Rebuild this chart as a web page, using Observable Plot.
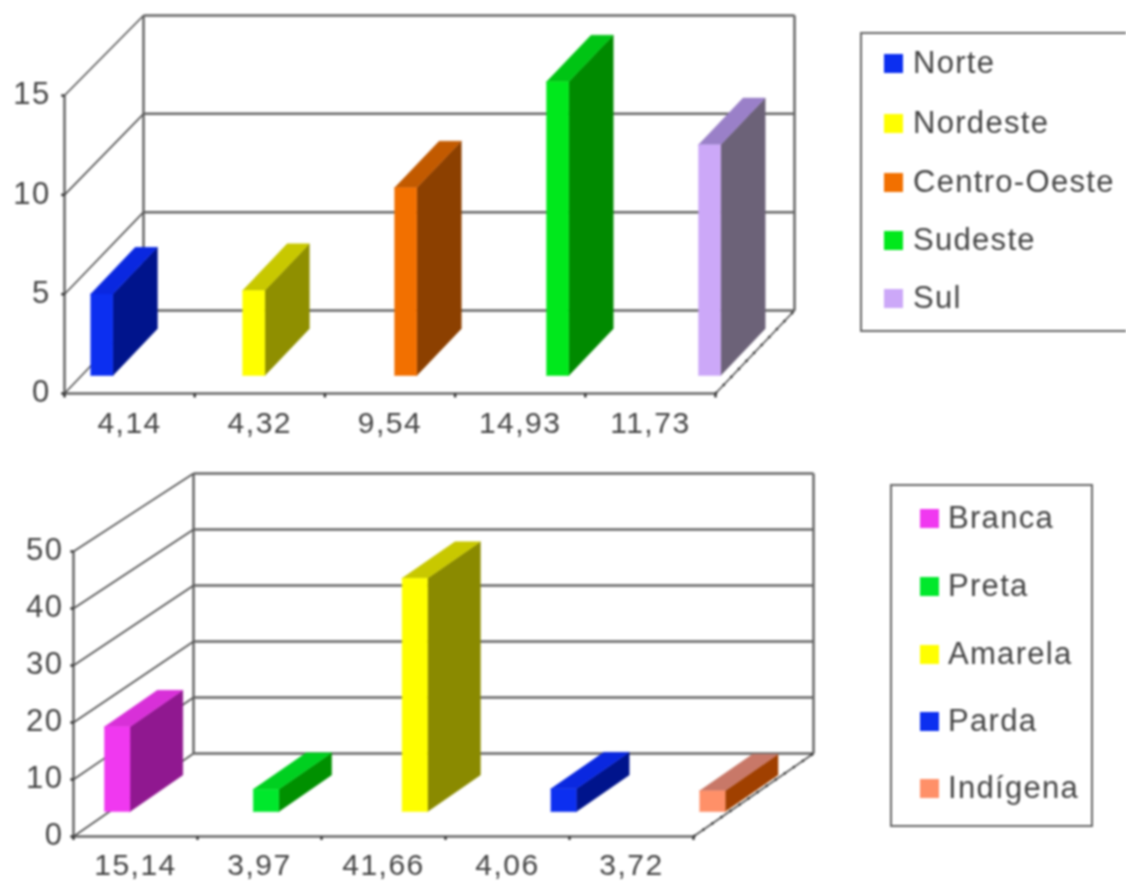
<!DOCTYPE html>
<html>
<head>
<meta charset="utf-8">
<script src="https://cdn.jsdelivr.net/npm/d3@7"></script>
<script src="https://cdn.jsdelivr.net/npm/@observablehq/plot@0.6"></script>
<style>
  html, body { margin: 0; padding: 0; background: #fff; overflow: hidden; }
  #page { position: relative; width: 1126px; height: 881px; overflow: hidden; filter: blur(0.9px);
          font-family: "Liberation Sans", Arial, sans-serif; color: #444; }
  #page svg { position: absolute; left: 0; background: transparent; }
  .legend { position: absolute; box-sizing: border-box; border: 2.5px solid #666; background: #fff; }
  .legend .row { position: absolute; display: flex; align-items: center; font-size: 31px; letter-spacing: 1.3px; line-height: 30px; white-space: nowrap; transform: translateY(-50%); }
  .legend .sw { width: 19px; height: 19px; flex: none; }
</style>
</head>
<body>
<div id="page"></div>
<script>
// Panel 1: regions
const regionNames  = ["Norte", "Nordeste", "Centro-Oeste", "Sudeste", "Sul"];
const regionValues = [4.14, 4.32, 9.54, 14.93, 11.73];
const regionLabels = ["4,14", "4,32", "9,54", "14,93", "11,73"];
const regionFront  = ["#0c2ff0", "#ffff00", "#f27000", "#00e81c", "#cca8f8"];
const regionSide   = ["#00148c", "#8f8f00", "#8c4000", "#008a00", "#6c6278"];
const regionTop    = ["#0a28e0", "#c8c800", "#c25a00", "#00c414", "#9a80c8"];
const regionTicks  = [0, 5, 10, 15];

// Panel 2: colour / race
const raceNames  = ["Branca", "Preta", "Amarela", "Parda", "Indígena"];
const raceValues = [15.14, 3.97, 41.66, 4.06, 3.72];
const raceLabels = ["15,14", "3,97", "41,66", "4,06", "3,72"];
const raceFront  = ["#f038f0", "#00e82c", "#ffff00", "#0c2ff0", "#ff9068"];
const raceSide   = ["#901890", "#009000", "#8a8a00", "#00148c", "#a04000"];
const raceTop    = ["#d830d8", "#00d020", "#c8c800", "#0a28e0", "#c87868"];
const raceTicks  = [0, 10, 20, 30, 40, 50];

const lineColor = "#666";
const diagColor = "#505050";
const textColor = "#444";

function panel(o) {
  const n = o.values.length;
  const px = (u, v, d) => ({x: u + d * o.depthX, y: v + d * o.depthY});
  const seg = (a, b) => ({x1: a.x, y1: a.y, x2: b.x, y2: b.y});
  const top = o.ticks[o.ticks.length - 1];
  const faces = [];
  o.values.forEach((v, i) => {
    const u0 = o.barStart + i * o.barStep, u1 = u0 + o.barWidth;
    const poly = (id, color, pts) => [...pts, pts[0]].forEach(p => faces.push({id, color, ...p}));
    poly(i + "s", o.side[i],  [px(u1, 0, o.d0), px(u1, 0, o.d1), px(u1, v, o.d1), px(u1, v, o.d0)]);
    poly(i + "t", o.topc[i],  [px(u0, v, o.d0), px(u1, v, o.d0), px(u1, v, o.d1), px(u0, v, o.d1)]);
    poly(i + "f", o.front[i], [px(u0, 0, o.d0), px(u1, 0, o.d0), px(u1, v, o.d0), px(u0, v, o.d0)]);
  });
  const f = v => px(0, v * o.stretch, 0);          // a value on the front axis
  const wall = [
    ...o.ticks.map(t => seg(px(0, t, 1), px(n, t, 1))),          // back-wall grid
    seg(px(0, 0, 1), px(0, top, 1)),
    seg(px(n, 0, 1), px(n, top, 1)),
    seg(f(0), f(top)),
    seg(px(0, 0, 0), px(n, 0, 0))
  ];
  const diag = [
    ...o.ticks.map(t => seg(f(t), px(0, t, 1))),                 // side-wall grid
    seg(px(n, 0, 0), px(n, 0, 1))
  ];
  const xt = d3.range(n + 1).map(i => seg(px(i, 0, 0), px(i, -o.tickLen, 0)));
  const yt = o.ticks.map(t => seg(f(t), px(-0.025, t * o.stretch, 0)));
  const link = {x1: "x1", y1: "y1", x2: "x2", y2: "y2", markerEnd: null};
  return Plot.plot({
    width: 1126, height: o.height, margin: 0,
    style: {background: "transparent", fontFamily: "Liberation Sans, Arial, sans-serif", letterSpacing: "1.5px", top: o.top + "px"},
    x: {domain: [0, n], range: o.xRange, axis: null},
    y: {domain: [0, top], range: o.yRange, axis: null},
    color: {type: "identity"},
    marks: [
      Plot.link(wall, {...link, stroke: lineColor, strokeWidth: 2.5}),
      Plot.link(diag, {...link, stroke: diagColor, strokeWidth: 1.6}),
      Plot.link(xt, {...link, strokeWidth: 2.5, stroke: "#333"}),
      Plot.link(yt, {...link, strokeWidth: 2.5, stroke: "#333"}),
      Plot.line(faces, {x: "x", y: "y", z: "id", fill: "color", stroke: "color", strokeWidth: 0.5, curve: "linear"}),
      Plot.link([seg(px(n, 0, 0), px(n, 0, 1))], {...link, strokeWidth: 2.5, stroke: "#333", strokeDasharray: "2 9"}),
      Plot.text(o.labels, {x: (d, i) => i + 0.5, y: () => o.labelY, text: d => d, fontSize: 30, fill: textColor, textAnchor: "middle"}),
      Plot.text(o.ticks, {x: () => o.yLabelU, y: d => d * o.stretch + o.yLabelShift, text: d => String(d), fontSize: 31, fill: textColor, textAnchor: "end"})
    ]
  });
}

function legend(names, colors, box, rows, swLeft, gap) {
  const el = document.createElement("div");
  el.className = "legend";
  Object.assign(el.style, {left: box[0] + "px", top: box[1] + "px", width: box[2] + "px", height: box[3] + "px"});
  names.forEach((name, i) => {
    const row = document.createElement("div");
    row.className = "row";
    row.style.left = swLeft + "px";
    row.style.top = rows[i] + "px";
    const sw = document.createElement("span");
    sw.className = "sw";
    sw.style.background = colors[i];
    sw.style.marginRight = gap + "px";
    const t = document.createElement("span");
    t.textContent = name;
    row.append(sw, t);
    el.append(row);
  });
  return el;
}

const page = document.getElementById("page");

page.append(panel({
  top: 0, height: 450,
  values: regionValues, labels: regionLabels, ticks: regionTicks,
  front: regionFront, side: regionSide, topc: regionTop,
  xRange: [64, 715], yRange: [393, 98],
  depthX: 0.607, depthY: 4.22, stretch: 1.01,
  d0: 0.217, d1: 0.78,
  barStart: 0.07, barStep: 1.167, barWidth: 0.17,
  tickLen: 0.2, labelY: -1.5, yLabelU: -0.105, yLabelShift: 0.05
}));

page.append(panel({
  top: 450, height: 431,
  values: raceValues, labels: raceLabels, ticks: raceTicks,
  front: raceFront, side: raceSide, topc: raceTop,
  xRange: [73, 693], yRange: [386, 106],
  depthX: 0.968, depthY: 14.82, stretch: 1.018,
  d0: 0.30, d1: 0.74,
  barStart: -0.04, barStep: 1.2, barWidth: 0.205,
  tickLen: 0.6, labelY: -5.1, yLabelU: -0.08, yLabelShift: 0.3
}));

page.append(legend(regionNames, regionFront, [860, 32, 290, 300], [29, 89, 148, 206, 264], 22, 10));
page.append(legend(raceNames, raceFront, [890, 484, 203, 343], [32, 100, 168, 235, 302], 28, 9));
</script>
</body>
</html>
